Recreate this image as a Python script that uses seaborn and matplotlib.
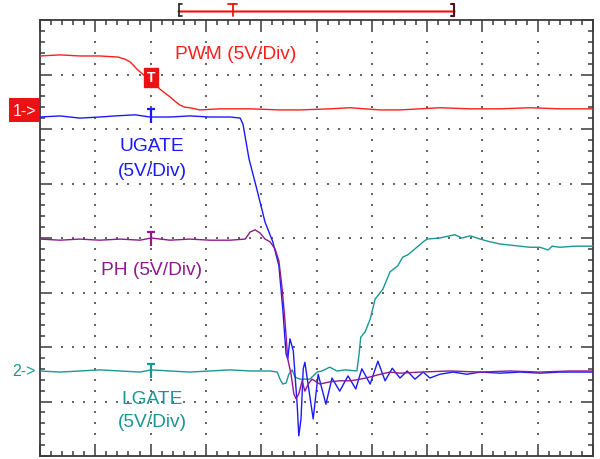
import matplotlib
matplotlib.use("Agg")
import matplotlib.pyplot as plt
import seaborn as sns
import numpy as np
from matplotlib.path import Path
from matplotlib.patches import Rectangle
from matplotlib.lines import Line2D
from matplotlib.ticker import MultipleLocator

sns.set_style("white")
plt.rcParams["font.family"] = ["Liberation Sans", "DejaVu Sans"]

# ---- data (time in divisions, level in divisions) ----
pwm_t = [0, 0.36, 0.72, 1.08, 1.41, 1.54, 1.63, 1.70, 1.75, 1.90, 2.03, 2.17, 2.26, 2.35,
         2.44, 2.53, 2.62, 2.71, 2.89, 3.25, 3.80, 4.34, 4.70, 5.24, 5.61, 6.15, 6.51, 6.87,
         7.23, 7.78, 8.32, 8.86, 9.40, 10]
pwm_v = [7.34, 7.36, 7.34, 7.34, 7.32, 7.28, 7.23, 7.16, 7.10, 6.97, 6.88, 6.73, 6.66, 6.59,
         6.51, 6.44, 6.40, 6.39, 6.35, 6.37, 6.37, 6.35, 6.35, 6.37, 6.39, 6.35, 6.35, 6.37,
         6.39, 6.37, 6.37, 6.39, 6.37, 6.37]

ugate_t = [0, 0.36, 0.72, 1.08, 1.36, 1.72, 1.99, 2.35, 2.71, 3.07, 3.44, 3.62, 3.67, 3.78,
           3.92, 4.07, 4.21, 4.32, 4.39, 4.45, 4.48, 4.52, 4.58, 4.65, 4.68, 4.72, 4.76, 4.79,
           4.86, 4.94, 5.03, 5.17, 5.28, 5.42, 5.57, 5.71, 5.82, 5.97, 6.11, 6.24, 6.37, 6.51,
           6.64, 6.78, 6.93, 7.05, 7.23, 7.47, 7.72, 7.96, 8.32, 8.68, 9.04, 9.40, 9.76, 10]
ugate_v = [6.22, 6.24, 6.20, 6.22, 6.24, 6.26, 6.22, 6.22, 6.24, 6.22, 6.22, 6.20, 6.09, 5.45,
           4.90, 4.29, 3.93, 3.49, 2.70, 1.87, 1.78, 2.15, 1.93, 0.95, 0.37, 0.68, 1.60, 1.72,
           1.23, 0.68, 1.50, 0.95, 1.43, 1.19, 1.47, 1.23, 1.60, 1.32, 1.74, 1.38, 1.61, 1.43,
           1.56, 1.41, 1.54, 1.43, 1.50, 1.54, 1.50, 1.54, 1.52, 1.54, 1.52, 1.54, 1.54, 1.54]

ph_t = [0, 0.36, 0.72, 1.08, 1.45, 1.81, 2.01, 2.35, 2.71, 3.07, 3.44, 3.71, 3.80, 3.89,
        3.98, 4.07, 4.16, 4.25, 4.32, 4.38, 4.43, 4.48, 4.54, 4.59, 4.63, 4.68, 4.74, 4.79,
        4.85, 4.92, 5.06, 5.24, 5.42, 5.61, 5.79, 5.97, 6.15, 6.33, 6.51, 6.87, 7.41, 7.96,
        8.50, 9.04, 9.58, 10]
ph_v = [3.98, 3.96, 3.98, 3.96, 3.98, 3.96, 4.00, 3.96, 3.98, 3.96, 3.96, 3.98, 4.11, 4.15,
        4.09, 3.98, 3.93, 3.80, 3.58, 3.06, 2.48, 1.78, 1.50, 1.14, 1.05, 1.14, 1.38, 1.19,
        1.32, 1.41, 1.32, 1.36, 1.38, 1.38, 1.41, 1.45, 1.50, 1.54, 1.52, 1.54, 1.56, 1.54,
        1.56, 1.54, 1.56, 1.56]

lgate_t = [0, 0.36, 0.72, 1.08, 1.45, 1.81, 2.01, 2.35, 2.71, 3.07, 3.44, 3.80, 4.16, 4.29,
           4.34, 4.39, 4.45, 4.50, 4.56, 4.61, 4.70, 4.88, 5.01, 5.10, 5.24, 5.37, 5.52, 5.73,
           5.77, 5.80, 5.88, 5.97, 6.06, 6.20, 6.33, 6.47, 6.56, 6.65, 6.78, 6.93, 7.00, 7.23,
           7.50, 7.63, 7.78, 7.96, 8.14, 8.32, 8.50, 8.68, 8.86, 9.04, 9.19, 9.26, 9.40, 9.67, 10]
lgate_v = [1.56, 1.54, 1.56, 1.58, 1.56, 1.54, 1.58, 1.56, 1.54, 1.56, 1.58, 1.56, 1.56, 1.54,
           1.41, 1.32, 1.34, 1.50, 1.58, 1.45, 1.41, 1.41, 1.54, 1.56, 1.63, 1.56, 1.58, 1.56,
           1.87, 2.18, 2.28, 2.51, 2.88, 3.06, 3.38, 3.49, 3.65, 3.69, 3.80, 3.93, 3.98, 4.00,
           4.06, 4.00, 4.04, 3.98, 3.93, 3.89, 3.87, 3.85, 3.83, 3.83, 3.78, 3.85, 3.83, 3.85, 3.85]

trig_t = 2.01
trig_levels = {"UGATE": 6.24, "PH": 3.98, "LGATE": 1.56}

C_RED = "#ff1e1e"
C_BLUE = "#1a1aff"
C_PURPLE = "#8e1a8e"
C_TEAL = "#1a9696"
C_FRAME = "#3a3a3a"

fig = plt.figure(figsize=(6, 4.6), dpi=100)
ax = fig.add_axes([40 / 600, 3 / 460, 553 / 600, 436 / 460])
ax.set_xlim(0, 10)
ax.set_ylim(0, 8)

# dotted graticule
for gx in range(1, 10):
    ys = np.arange(0.2, 8, 0.2)
    ax.scatter(np.full_like(ys, gx), ys, s=1.8, marker="s", color="#666666", linewidths=0, zorder=1)
for gy in range(1, 8):
    xs = np.arange(0.2, 10, 0.2)
    ax.scatter(xs, np.full_like(xs, gy), s=1.8, marker="s", color="#666666", linewidths=0, zorder=1)

# traces
sns.lineplot(x=lgate_t, y=lgate_v, ax=ax, color=C_TEAL, linewidth=1.0, estimator=None, zorder=3)
sns.lineplot(x=ugate_t, y=ugate_v, ax=ax, color=C_BLUE, linewidth=1.0, estimator=None, zorder=4)
sns.lineplot(x=ph_t, y=ph_v, ax=ax, color=C_PURPLE, linewidth=1.0, estimator=None, zorder=5)
sns.lineplot(x=pwm_t, y=pwm_v, ax=ax, color=C_RED, linewidth=1.0, estimator=None, zorder=6)

# trigger markers
tpath = Path([(-0.27, 0.5), (0.27, 0.5), (0, 0.5), (0, -0.5)],
             [Path.MOVETO, Path.LINETO, Path.MOVETO, Path.LINETO])
for name, col in (("UGATE", C_BLUE), ("PH", C_PURPLE), ("LGATE", C_TEAL)):
    ax.plot([trig_t], [trig_levels[name]], marker=tpath, markersize=9.5, color=col,
            markeredgewidth=1.6, linestyle="none", zorder=7)
ax.text(trig_t, 6.95, "T", color="white", fontsize=10, fontweight="bold", ha="center",
        va="center", zorder=8,
        bbox=dict(boxstyle="square,pad=0.18", fc="#ee1111", ec="#ee1111"))

# labels
ax.text(3.54, 7.38, "PWM (5V/Div)", color=C_RED, fontsize=13.8, ha="center", va="center")
ax.text(2.03, 5.69, "UGATE", color=C_BLUE, fontsize=13.8, ha="center", va="center")
ax.text(2.03, 5.23, "(5V/Div)", color=C_BLUE, fontsize=13.8, ha="center", va="center")
ax.text(2.02, 3.43, "PH (5V/Div)", color=C_PURPLE, fontsize=13.8, ha="center", va="center")
ax.text(2.02, 1.05, "LGATE", color=C_TEAL, fontsize=13.8, ha="center", va="center")
ax.text(2.03, 0.64, "(5V/Div)", color=C_TEAL, fontsize=13.8, ha="center", va="center")

# frame & ticks
for sp in ax.spines.values():
    sp.set_visible(True)
    sp.set_color(C_FRAME)
    sp.set_linewidth(1.3)
ax.xaxis.set_major_locator(MultipleLocator(1))
ax.xaxis.set_minor_locator(MultipleLocator(0.2))
ax.yaxis.set_major_locator(MultipleLocator(1))
ax.yaxis.set_minor_locator(MultipleLocator(0.2))
ax.tick_params(which="both", direction="in", top=True, right=True, bottom=True, left=True,
               labelbottom=False, labelleft=False, color=C_FRAME, width=1.1)
ax.tick_params(which="major", length=8)
ax.tick_params(which="minor", length=3.5)
ax.set_xlabel("")
ax.set_ylabel("")

# channel markers at left
fig.add_artist(Rectangle((9 / 600, 1 - 123 / 460), 30 / 600, 24 / 460, transform=fig.transFigure,
                         facecolor="#ee1111", edgecolor="none"))
fig.text(24 / 600, 1 - 111 / 460, "1->", color="white", fontsize=11.5, ha="center", va="center")
fig.text(24 / 600, 1 - 372 / 460, "2->", color=C_TEAL, fontsize=11.5, ha="center", va="center")

# trigger position bar on top
def fl(x0, y0, x1, y1, col, lw):
    fig.add_artist(Line2D([x0 / 600, x1 / 600], [1 - y0 / 460, 1 - y1 / 460],
                          transform=fig.transFigure, color=col, linewidth=lw))

fl(178, 11.5, 454, 11.5, "#ff8080", 2.0)
fl(178, 11.5, 454, 11.5, "#ee1111", 0.9)
fl(179, 5, 179, 17, "#222222", 1.2)
fl(179, 5, 182, 5, "#222222", 1.2)
fl(179, 17, 182, 17, "#222222", 1.2)
fl(454, 5, 454, 17, "#551111", 1.5)
fl(451, 5, 454, 5, "#551111", 1.5)
fl(451, 17, 454, 17, "#551111", 1.5)
fl(228, 5, 237, 5, "#ee1111", 1.3)
fl(232.5, 5, 232.5, 17, "#ee1111", 1.3)

fig.savefig("out.png", dpi=100)
